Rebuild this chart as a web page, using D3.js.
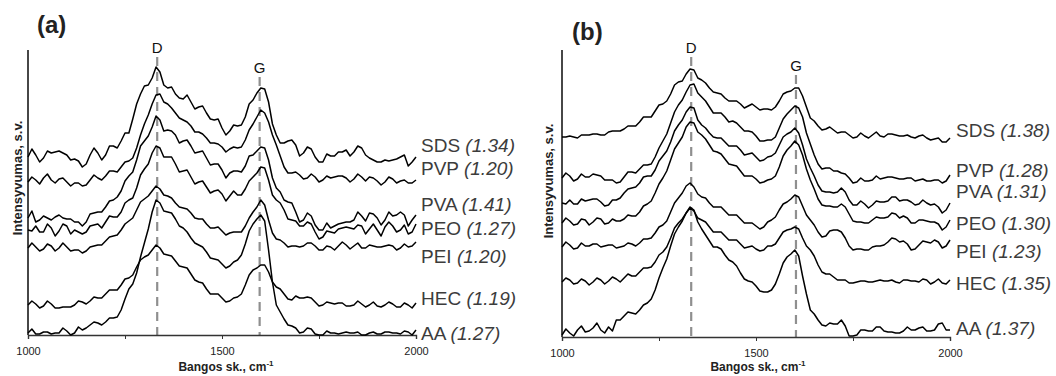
<!DOCTYPE html>
<html><head><meta charset="utf-8">
<script src="https://cdn.jsdelivr.net/npm/d3@7"></script>
<style>
html,body{margin:0;padding:0;background:#fff;}
svg{display:block;}
text{font-family:"Liberation Sans",Arial,sans-serif;}
</style></head>
<body>
<svg id="chart" width="1056" height="376"></svg>
<script>
// ---------- data ----------
const wavenumbers = d3.range(1000, 2001, 10);   // cm-1 grid of the spectra
const seriesNames = ["SDS", "PVP", "PVA", "PEO", "PEI", "HEC", "AA"];
const ratiosA = ["1.34", "1.20", "1.41", "1.27", "1.20", "1.19", "1.27"];
const ratiosB = ["1.38", "1.28", "1.31", "1.30", "1.23", "1.35", "1.37"];
const xTicks = [1000, 1250, 1500, 1750, 2000];
const xTickLabels = [1000, 1500, 2000];
const peakD = [1333, 1333];
const peakG = [1597, 1603];

// panel (a) intensities (arbitrary units, offset stacked)
const aSDS = [178,186,180,173,177,184,182,183,184,182,
180,175,176,174,168,171,180,187,182,175,
180,189,189,187,194,202,202,216,231,241,
249,250,257,268,263,250,247,248,241,237,
236,240,233,226,228,229,222,216,215,216,
207,200,204,210,209,210,218,231,235,242,
247,246,233,211,200,192,192,194,195,190,
179,182,188,186,178,173,173,181,179,179,
183,183,185,179,183,189,187,180,177,175,
173,173,175,174,175,176,178,180,169,173,178];
const aPVP = [153,158,155,151,157,161,155,152,156,157,
153,149,152,152,149,150,155,160,157,155,
159,164,164,163,168,173,174,177,187,200,
211,220,231,240,241,233,231,227,222,217,
215,213,209,203,203,201,197,192,192,191,
188,183,186,188,187,188,195,205,211,218,
225,222,213,200,190,179,168,162,162,163,
160,156,157,161,158,153,155,159,157,158,
159,159,157,153,156,161,158,154,158,157,
154,150,153,158,156,152,154,155,152,152,155];
const aPVA = [117,124,113,115,119,117,115,118,120,117,
116,116,113,113,109,113,121,122,123,123,
128,134,135,138,144,154,159,163,175,189,
194,199,208,219,215,204,205,204,200,192,
194,195,189,182,183,184,177,170,171,171,
165,157,162,164,164,163,169,179,180,184,
188,187,175,157,147,143,135,133,132,123,
113,115,122,119,110,105,105,112,107,109,
111,112,113,113,115,123,119,114,122,121,
117,110,115,123,119,120,123,120,109,115,120];
const aPEO = [105,104,109,103,103,111,107,99,104,111,
109,101,105,103,101,103,109,110,111,107,
113,119,118,118,123,132,135,137,147,160,
166,171,182,189,187,178,178,178,171,163,
164,165,158,151,153,154,148,142,144,145,
141,134,139,144,140,140,146,154,158,162,
168,167,155,140,135,132,125,116,115,114,
109,109,113,111,103,96,98,104,103,102,
106,107,108,107,106,110,109,101,106,111,
105,99,108,113,109,103,105,110,101,103,111];
const aPEI = [87,92,88,84,86,91,89,84,87,92,
88,84,85,85,82,84,88,89,90,90,
94,98,99,100,105,111,114,117,125,133,
136,139,144,149,146,140,139,137,132,128,
127,126,122,117,116,116,111,107,107,108,
104,100,102,103,103,103,109,117,123,128,
135,130,115,102,96,95,92,88,89,89,
88,89,92,92,89,85,85,89,88,85,
89,93,90,86,89,92,87,87,90,89,
88,88,89,90,89,85,87,91,88,89,93];
const aHEC = [30,34,31,27,29,34,31,27,27,28,
28,28,30,34,33,31,34,38,37,37,
41,45,45,45,50,56,57,60,68,75,
78,80,85,90,87,81,80,79,74,69,
68,67,61,55,53,52,46,41,41,41,
37,33,34,37,38,41,50,60,65,67,
70,70,63,53,48,46,41,36,35,39,
37,37,38,37,33,29,30,33,32,31,
32,32,29,29,30,34,31,28,30,33,
29,28,30,33,31,28,28,32,30,27,32];
const aAA = [2,6,1,1,3,3,1,2,2,7,
4,0,2,8,5,7,10,13,12,10,
13,17,17,18,25,36,46,51,62,78,
92,106,123,135,132,124,123,122,116,109,
107,103,97,92,90,88,83,77,76,75,
71,67,69,73,75,80,91,104,111,116,
120,114,85,53,30,23,16,10,9,7,
2,3,7,6,1,0,0,4,2,2,
1,2,3,2,2,3,0,0,2,3,
1,1,3,3,2,2,1,4,3,0,5];

// panel (b) intensities
const bSDS = [200,200,201,200,199,202,202,202,203,203,
202,202,205,206,206,206,208,211,211,211,
215,220,220,220,226,232,233,236,243,252,
255,256,263,268,267,259,257,254,249,245,
244,243,239,236,236,236,233,229,231,233,
230,227,228,228,227,230,236,243,245,246,
249,249,241,230,219,216,211,207,208,210,
207,204,205,205,202,199,200,204,201,199,
202,205,201,200,203,203,202,201,201,202,
200,199,201,202,199,197,198,199,195,195,199];
const bPVP = [159,164,161,156,158,163,160,160,163,162,
161,157,157,157,154,155,160,165,165,164,
168,172,172,173,180,189,196,203,214,225,
232,237,245,252,253,244,240,236,230,224,
224,224,220,215,216,214,210,206,206,205,
201,196,196,197,197,200,209,218,223,227,
231,229,220,204,193,182,173,168,169,169,
166,166,164,163,159,154,155,159,156,156,
157,161,158,159,160,160,159,158,158,159,
159,156,157,158,156,156,157,157,154,156,162];
const bPVA = [134,133,137,133,133,138,136,137,138,138,
135,131,132,137,137,139,144,148,149,150,
154,160,161,161,167,176,181,186,195,206,
212,217,225,230,229,217,212,209,204,200,
199,199,195,191,191,191,187,182,183,184,
180,176,177,180,181,184,192,200,203,205,
209,204,192,178,169,161,152,146,145,145,
144,145,149,145,137,132,132,136,133,129,
132,136,135,135,136,140,140,136,137,137,
135,132,133,137,134,132,133,130,124,127,134];
const bPEO = [114,119,116,112,113,118,117,112,115,119,
118,113,114,118,116,116,118,122,121,121,
125,131,133,136,144,153,159,166,177,188,
194,200,210,215,214,205,202,198,192,186,
185,183,178,173,172,171,166,161,161,161,
158,154,155,157,158,161,170,181,187,191,
196,192,182,168,157,148,138,132,131,131,
130,130,133,130,123,116,115,115,114,114,
117,120,119,119,120,124,123,119,121,119,
114,114,117,117,116,115,115,113,107,110,117];
const bPEI = [90,95,92,88,89,94,91,91,93,93,
90,91,92,92,89,90,91,94,93,91,
94,98,98,99,104,110,112,116,125,134,
139,144,151,154,150,143,140,139,134,130,
130,130,126,122,122,122,118,114,114,114,
111,108,110,115,117,120,127,133,135,138,
142,140,131,122,117,112,105,100,101,106,
107,107,105,99,91,87,88,88,87,87,
90,91,91,92,95,99,98,95,96,93,
87,88,92,96,95,94,97,95,89,91,97];
const bHEC = [55,59,57,53,54,58,56,52,55,59,
57,53,56,60,58,55,59,63,61,61,
65,69,69,70,75,82,85,90,99,109,
114,118,124,129,126,119,117,115,110,105,
105,105,101,97,97,97,93,89,90,91,
88,86,87,91,91,93,99,105,107,108,
110,108,99,91,87,81,72,65,63,63,
60,57,57,57,54,54,55,56,56,55,
55,56,57,56,56,57,55,54,57,57,
56,56,55,58,57,53,55,58,54,53,57];
const bAA = [2,8,4,1,7,11,5,6,9,14,
7,4,10,6,17,17,21,25,24,23,
27,32,34,38,47,59,69,78,91,103,
110,116,124,130,127,115,108,102,96,90,
90,88,82,77,75,71,64,58,56,55,
51,46,45,45,47,53,63,74,80,83,
87,81,61,43,27,23,17,12,11,14,
13,13,17,11,1,1,2,7,7,6,
6,10,10,6,5,5,4,4,6,10,
7,7,9,10,6,6,7,13,14,7,7];

// ---------- layout ----------
const panels = [
  {tag:"(a)", tagX:37, tagY:33, x0:28, x1:416, yTop:50, yBot:335, yMax:285,
   series:[aSDS,aPVP,aPVA,aPEO,aPEI,aHEC,aAA], ratios:ratiosA,
   labelX:421, labelY:[152,175,211,235,263,305,340],
   dY:53, gY:73, yTitleX:22, yTitleY:178, xTitleX:226},
  {tag:"(b)", tagX:572, tagY:40, x0:562, x1:950, yTop:50, yBot:337, yMax:287,
   series:[bSDS,bPVP,bPVA,bPEO,bPEI,bHEC,bAA], ratios:ratiosB,
   labelX:956, labelY:[137,177,198,230,258,290,335],
   dY:53, gY:71, yTitleX:553, yTitleY:181, xTitleX:758}
];

const svg = d3.select("#chart");

panels.forEach((p, pi) => {
  const g = svg.append("g");
  const x = d3.scaleLinear().domain([1000, 2000]).range([p.x0, p.x1]);
  const y = d3.scaleLinear().domain([0, p.yMax]).range([p.yBot, p.yTop]);

  // panel tag
  g.append("text").attr("x", p.tagX).attr("y", p.tagY)
    .attr("font-size", 24).attr("font-weight", "bold").attr("fill", "#222")
    .text(p.tag);

  // peak guide lines (behind spectra)
  [[peakD[pi], p.dY, "D"], [peakG[pi], p.gY, "G"]].forEach(([wn, ly, lab]) => {
    g.append("line")
      .attr("x1", x(wn)).attr("x2", x(wn))
      .attr("y1", ly + 4).attr("y2", p.yBot)
      .attr("stroke", "#8f8f8f").attr("stroke-width", 2.2)
      .attr("stroke-dasharray", "9,6");
    g.append("text").attr("x", x(wn)).attr("y", ly)
      .attr("text-anchor", "middle").attr("font-size", 15)
      .attr("fill", "#111").text(lab);
  });

  // axes
  const xAxis = d3.axisBottom(x).tickValues(xTicks).tickSize(4)
    .tickFormat(d => xTickLabels.includes(d) ? d : "");
  const ax = g.append("g").attr("transform", `translate(0,${p.yBot})`).call(xAxis);
  ax.select(".domain").attr("stroke", "#333").attr("stroke-width", 1.4);
  ax.selectAll(".tick line").attr("stroke", "#333");
  ax.selectAll(".tick text").attr("font-size", 11).attr("fill", "#222")
    .attr("dy", null).attr("y", 20)
    .attr("font-family", "'Liberation Sans',Arial,sans-serif");

  g.append("line").attr("x1", p.x0).attr("x2", p.x0)
    .attr("y1", p.yTop).attr("y2", p.yBot)
    .attr("stroke", "#333").attr("stroke-width", 1.8);

  // spectra
  const line = d3.line().x((d, i) => x(wavenumbers[i])).y(d => y(d));
  p.series.forEach(s => {
    g.append("path").datum(s).attr("d", line)
      .attr("fill", "none").attr("stroke", "#000")
      .attr("stroke-width", 1.5).attr("stroke-linejoin", "round");
  });

  // series labels
  seriesNames.forEach((name, i) => {
    const t = g.append("text").attr("x", p.labelX).attr("y", p.labelY[i])
      .attr("font-size", 19).attr("fill", "#3c3c3c");
    t.append("tspan").text(name + " ");
    t.append("tspan").attr("font-style", "italic").text("(" + p.ratios[i] + ")");
  });

  // axis titles
  const xt = g.append("text").attr("x", p.xTitleX).attr("y", 371)
    .attr("text-anchor", "middle").attr("font-size", 12)
    .attr("font-weight", "bold").attr("fill", "#222");
  xt.append("tspan").text("Bangos sk., cm");
  xt.append("tspan").attr("dy", -5).attr("font-size", 8).text("-1");

  g.append("text")
    .attr("transform", `translate(${p.yTitleX},${p.yTitleY}) rotate(-90)`)
    .attr("text-anchor", "middle").attr("font-size", 13)
    .attr("font-weight", "bold").attr("fill", "#222")
    .text("Intensyvumas, s.v.");
});
</script>
</body></html>
